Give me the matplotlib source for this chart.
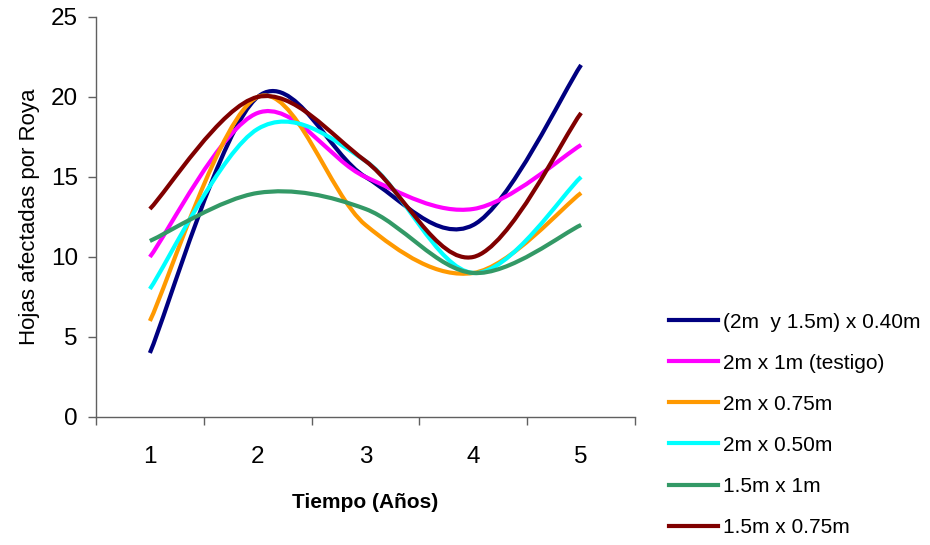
import matplotlib
matplotlib.use('Agg')
import matplotlib.pyplot as plt
from matplotlib.path import Path
from matplotlib.patches import PathPatch
from matplotlib.lines import Line2D

plt.rcParams['font.family'] = ['Liberation Sans', 'DejaVu Sans']

# datos
anios = [1, 2, 3, 4, 5]
tratamientos = ['(2m  y 1.5m) x 0.40m', '2m x 1m (testigo)', '2m x 0.75m',
                '2m x 0.50m', '1.5m x 1m', '1.5m x 0.75m']
hojas_040 = [4, 20, 15, 12, 22]
hojas_testigo = [10, 19, 15, 13, 17]
hojas_075 = [6, 20, 12, 9, 14]
hojas_050 = [8, 18, 16, 9, 15]
hojas_15x1 = [11, 14, 13, 9, 12]
hojas_15x075 = [13, 20, 16, 10, 19]
colores = ['#000080', '#FF00FF', '#FF9900', '#00FFFF', '#339966', '#800000']

series = [hojas_040, hojas_testigo, hojas_075, hojas_050, hojas_15x1, hojas_15x075]


def smooth_path(xs, ys):
    """Curva suavizada tipo Excel (Bezier cubica con tangentes Catmull-Rom)"""
    pts = list(zip(xs, ys))
    verts = [pts[0]]
    codes = [Path.MOVETO]
    n = len(pts)
    for i in range(n - 1):
        p0 = pts[i - 1] if i > 0 else pts[i]
        p1 = pts[i]
        p2 = pts[i + 1]
        p3 = pts[i + 2] if i + 2 < n else pts[i + 1]
        c1 = (p1[0] + (p2[0] - p0[0]) / 6, p1[1] + (p2[1] - p0[1]) / 6)
        c2 = (p2[0] - (p3[0] - p1[0]) / 6, p2[1] - (p3[1] - p1[1]) / 6)
        verts += [c1, c2, p2]
        codes += [Path.CURVE4] * 3
    return Path(verts, codes)


fig = plt.figure(figsize=(9.3, 5.45), dpi=100)
ax = fig.add_axes([0.1032, 0.2349, 0.5796, 0.734])

for vals, color in zip(series, colores):
    patch = PathPatch(smooth_path(anios, vals), facecolor='none', edgecolor=color,
                      lw=3, capstyle='butt', joinstyle='round')
    ax.add_patch(patch)

ax.set_xlim(0.5, 5.5)
ax.set_ylim(0, 25)
ax.set_yticks([0, 5, 10, 15, 20, 25])
ax.set_xticks(anios)
ax.set_xticks([0.5, 1.5, 2.5, 3.5, 4.5, 5.5], minor=True)
ax.tick_params(axis='x', which='major', length=0, pad=21, labelsize=17.5)
ax.tick_params(axis='x', which='minor', length=6, width=1, color='#606060')
ax.tick_params(axis='y', length=6, width=1, color='#606060', pad=7, labelsize=17.5)

for s in ['top', 'right']:
    ax.spines[s].set_visible(False)
for s in ['left', 'bottom']:
    ax.spines[s].set_color('#606060')
    ax.spines[s].set_linewidth(1)

ax.set_xlabel('Tiempo (Años)', fontsize=15, fontweight='bold', labelpad=18)
ax.set_ylabel('Hojas afectadas por Roya', fontsize=16, labelpad=8)

handles = [Line2D([0], [0], color=c, lw=3) for c in colores]
fig.legend(handles, tratamientos, loc='upper left', bbox_to_anchor=(0.699, 0.461),
           frameon=False, handlelength=2.35, handletextpad=0.25, labelspacing=1.06,
           prop={'size': 15})

plt.savefig('out.png', dpi=100)
plt.close()
